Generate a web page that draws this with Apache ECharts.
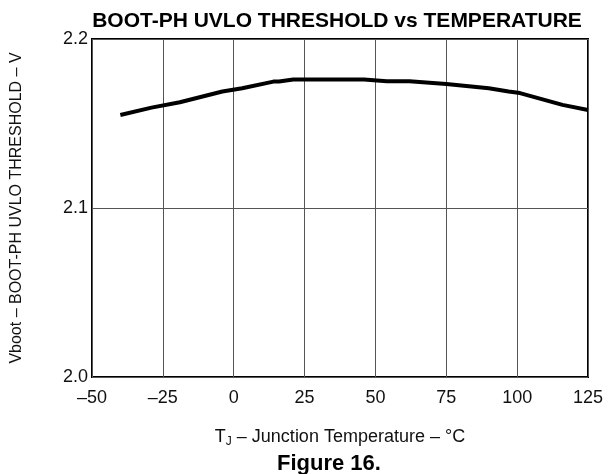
<!DOCTYPE html>
<html>
<head>
<meta charset="utf-8">
<script src="https://cdn.jsdelivr.net/npm/echarts@6/dist/echarts.min.js"></script>
<style>
html,body{margin:0;padding:0;background:#fff;}
#c{width:613px;height:474px;}
</style>
</head>
<body>
<div id="c"></div>
<script>
// Data
const temps = [-40, -29, -19, -4, 3, 14, 16, 21, 46, 54, 62, 75, 90, 97, 101, 116, 125];
const vboot = [2.155, 2.1594, 2.1626, 2.1689, 2.1709, 2.1748, 2.1748, 2.176, 2.176, 2.175, 2.175, 2.1734, 2.1709, 2.1689, 2.168, 2.161, 2.158];
const xTicks = [-50, -25, 0, 25, 50, 75, 100, 125];
const yTicks = [2.0, 2.1, 2.2];
const titleText = 'BOOT-PH UVLO THRESHOLD vs TEMPERATURE';
const yName = 'Vboot \u2013 BOOT-PH UVLO THRESHOLD \u2013 V';
const caption = 'Figure 16.';

const font = 'Liberation Sans, Arial, sans-serif';
const chart = echarts.init(document.getElementById('c'), null, {renderer: 'canvas'});
chart.setOption({
  animation: false,
  backgroundColor: '#fff',
  grid: {left: 92, right: 25, top: 39, bottom: 97, show: true, borderColor: '#000', borderWidth: 2, backgroundColor: 'transparent'},
  title: {
    text: titleText, left: 332, top: 6, textAlign: 'center',
    textStyle: {fontFamily: font, fontSize: 21, fontWeight: 'bold', color: '#000'}
  },
  graphic: [{
    type: 'text', left: 330 - 53, top: 453,
    style: {text: caption, fontFamily: font, fontSize: 22, fontWeight: 'bold', fill: '#000'}
  }],
  xAxis: {
    type: 'value', min: xTicks[0], max: xTicks[xTicks.length - 1], interval: 25,
    axisLine: {show: false}, axisTick: {show: false},
    splitLine: {show: true, lineStyle: {color: '#555', width: 1}},
    axisLabel: {
      margin: 12, fontFamily: font, fontSize: 18, color: '#111',
      formatter: v => (v < 0 ? '\u2013' + Math.abs(v) : String(v))
    },
    name: 'T{sub|J} \u2013 Junction Temperature \u2013 \u00b0C',
    nameLocation: 'middle', nameGap: 49,
    nameTextStyle: {
      fontFamily: font, fontSize: 18, color: '#111',
      rich: {sub: {fontFamily: font, fontSize: 12, color: '#111', verticalAlign: 'bottom', padding: [10, 0, 0, 0]}}
    }
  },
  yAxis: {
    type: 'value', min: yTicks[0], max: yTicks[yTicks.length - 1], interval: 0.1,
    axisLine: {show: false}, axisTick: {show: false},
    splitLine: {show: true, lineStyle: {color: '#555', width: 1}},
    axisLabel: {margin: 4, fontFamily: font, fontSize: 18, color: '#111', formatter: v => v.toFixed(1)},
    name: yName, nameLocation: 'middle', nameGap: 67,
    nameTextStyle: {fontFamily: font, fontSize: 16, color: '#111'}
  },
  series: [{
    type: 'line', data: temps.map((t, i) => [t, vboot[i]]),
    showSymbol: false, symbol: 'none', smooth: false,
    lineStyle: {color: '#000', width: 4}
  }]
});
</script>
</body>
</html>
